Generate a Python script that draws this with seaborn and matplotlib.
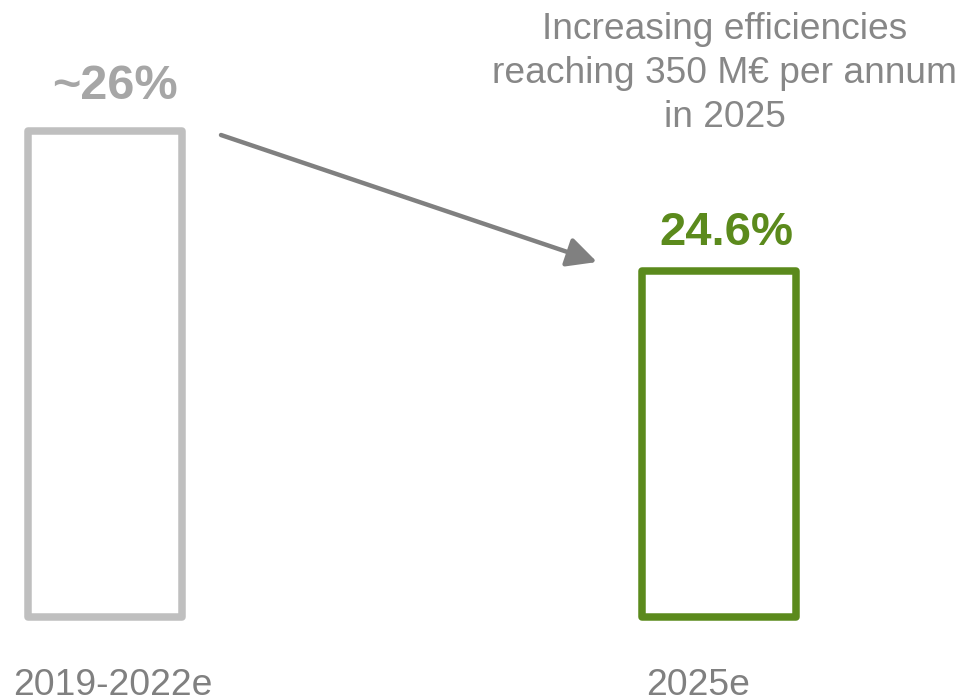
import matplotlib
matplotlib.use("Agg")
import matplotlib.pyplot as plt
import seaborn as sns
import pandas as pd
from matplotlib.patches import ArrowStyle

# ---------------- data ----------------
CATEGORIES = ["2019-2022e", "2025e"]
VALUES = [26.0, 24.6]
VALUE_LABELS = ["~26%", "24.6%"]
NOTE_LINES = ["Increasing efficiencies", "reaching 350 M€ per annum", "in 2025"]

# ---------------- style ----------------
BAR_COLORS = ["#bfbfbf", "#5b8a1c"]
LABEL_COLORS = ["#a6a6a6", "#5b8a1c"]
TEXT_GRAY = "#808080"
NOTE_GRAY = "#878787"
FONT = ["Liberation Sans", "DejaVu Sans"]

W_PX, H_PX = 963, 699
X0_PX = 105.0          # pixel x of first category centre
PX_PER_CAT = 614.0     # pixels between category centres
BASE_PX = 617.25       # pixel y (from top) of bar bottoms
PX_PER_UNIT = 100.0    # pixels per percentage point
BASE = 21.135          # value at the bar bottoms (truncated axis)
BAR_W = 154.5 / PX_PER_CAT
LW = 7.5 * 0.72

sns.set_theme(style="white")
plt.rcParams["font.family"] = FONT

df = pd.DataFrame({"period": CATEGORIES, "value": VALUES})

fig = plt.figure(figsize=(W_PX / 100, H_PX / 100), dpi=100)
ax = fig.add_axes([0, 0, 1, 1])

sns.barplot(data=df, x="period", y="value", hue="period",
            palette=BAR_COLORS, fill=False, legend=False, ax=ax,
            linewidth=LW)

# truncated axis: bars start at BASE
patches = sorted(ax.patches, key=lambda p: p.get_x())
for i, (p, v) in enumerate(zip(patches, VALUES)):
    p.set_x(i - BAR_W / 2)
    p.set_width(BAR_W)
    p.set_y(BASE)
    p.set_height(v - BASE)
    p.set_facecolor("none")
    p.set_edgecolor(BAR_COLORS[i])
    p.set_linewidth(LW)
    p.set_joinstyle("round")

ax.set_xlim(-X0_PX / PX_PER_CAT, (W_PX - X0_PX) / PX_PER_CAT)
ax.set_ylim(BASE - (H_PX - BASE_PX) / PX_PER_UNIT, BASE + BASE_PX / PX_PER_UNIT)
ax.axis("off")


def xd(px):
    return (px - X0_PX) / PX_PER_CAT


def yd(py):
    return BASE + (BASE_PX - py) / PX_PER_UNIT


# value labels
LABEL_DX_PX = [10, 7]
LABEL_DY_PX = [31.75, 25.75]
LABEL_SIZES = [35, 34]
for i, (v, lab) in enumerate(zip(VALUES, VALUE_LABELS)):
    ax.text(i + LABEL_DX_PX[i] / PX_PER_CAT, v + LABEL_DY_PX[i] / PX_PER_UNIT, lab,
            ha="center", va="baseline", fontsize=LABEL_SIZES[i],
            fontweight="bold", color=LABEL_COLORS[i])

# category labels
CAT_DX_PX = [7.5, -21]
for i, cat in enumerate(CATEGORIES):
    ax.text(i + CAT_DX_PX[i] / PX_PER_CAT, yd(695), cat,
            ha="center", va="baseline", fontsize=26.8, color=TEXT_GRAY)

# note text
for k, line in enumerate(NOTE_LINES):
    ax.text(xd(724.5), yd(39 + 44 * k), line, ha="center", va="baseline",
            fontsize=26.7, color=NOTE_GRAY)

# arrow from first bar to second
ax.annotate("", xy=(xd(597), yd(262)), xytext=(xd(221), yd(135)),
            arrowprops=dict(arrowstyle=ArrowStyle("-|>", head_length=0.9, head_width=0.45),
                            mutation_scale=20, color=TEXT_GRAY, lw=3.2,
                            shrinkA=0, shrinkB=0))

fig.savefig("out.png", dpi=100)
